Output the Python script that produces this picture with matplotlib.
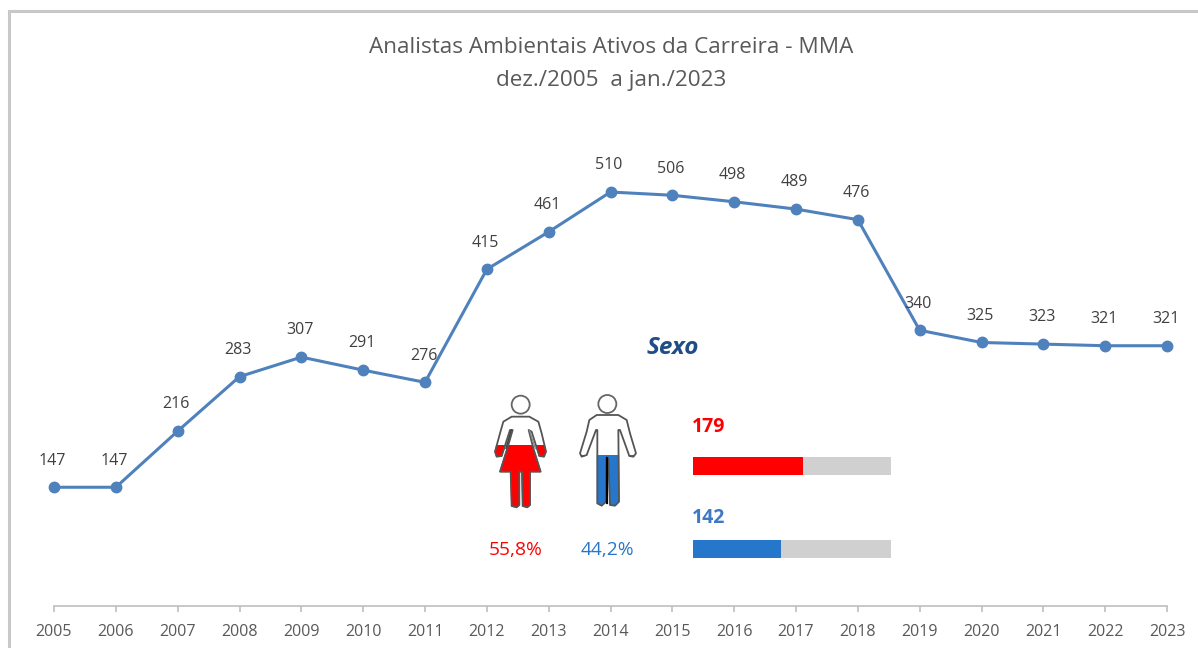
import numpy as np
import matplotlib
matplotlib.use("Agg")
import matplotlib.pyplot as plt
from matplotlib.patches import Polygon, Circle, Rectangle

years = list(range(2005, 2024))
ativos = [147, 147, 216, 283, 307, 291, 276, 415, 461, 510, 506, 498, 489, 476, 340, 325, 323, 321, 321]
sexo_n = [179, 142]
sexo_pct = ["55,8%", "44,2%"]
sexo_cor = ["#ff0000", "#2676cc"]

W, H = 1198, 648
LINE = "#4f81bd"
GREY = "#595959"

plt.rcParams["font.family"] = ["Open Sans", "DejaVu Sans"]
fig = plt.figure(figsize=(W / 100, H / 100), dpi=100)

# pixel overlay for frame, pictograms, titles
px = fig.add_axes([0, 0, 1, 1], zorder=3)
px.set_xlim(0, W)
px.set_ylim(H, 0)
px.axis("off")
px.patch.set_alpha(0)

# main line
ax = fig.add_axes([54 / W, (H - 606) / H, (1167 - 54) / W, (606 - 118) / H], zorder=1)
ax.plot(years, ativos, "-o", color=LINE, lw=2.2, ms=7.5, clip_on=False)
ax.set_xlim(2005, 2023)
ax.set_ylim(1, 601)
ax.set_xticks(years)
ax.set_yticks([])
ax.tick_params(axis="x", length=4.5, width=1.2, color="#bfbfbf", labelcolor=GREY, labelsize=11.5, pad=8.5)
for s in ["top", "left", "right"]:
    ax.spines[s].set_visible(False)
ax.spines["bottom"].set_color("#bfbfbf")
ax.spines["bottom"].set_linewidth(1.2)
for y, v in zip(years, ativos):
    ax.annotate(str(v), (y, v), xytext=(-1, 13.5), textcoords="offset points",
                ha="center", va="bottom", fontsize=11.5, color="#404040")

# frame
px.plot([9, 9, W], [H, 11, 11], color="#c8c8c8", lw=2.2, solid_joinstyle="miter")

px.text(611, 47.5, "Analistas Ambientais Ativos da Carreira - MMA", ha="center", va="center",
        fontsize=16.2, color=GREY)
px.text(611, 80.5, "dez./2005  a jan./2023", ha="center", va="center", fontsize=16.2, color=GREY)
px.text(673, 348.5, "Sexo", ha="center", va="center", fontsize=17.5, color="#1f4e87",
        fontweight="bold", fontstyle="italic")


def zc(pts):
    return [(x / 3 + 470, y / 3 + 330) for x, y in pts]


woman = [(125, 260), (178, 260), (205, 275), (215, 310), (228, 365), (222, 380), (208, 378),
         (185, 305), (176, 300), (190, 355), (212, 425), (180, 425), (180, 525), (172, 532),
         (158, 528), (156, 425), (148, 425), (148, 525), (140, 532), (125, 528), (122, 425),
         (90, 425), (112, 355), (128, 300), (120, 300), (95, 378), (80, 380), (75, 365),
         (90, 310), (100, 275)]
man = [(380, 255), (445, 255), (470, 270), (480, 310), (498, 370), (490, 380), (478, 378),
       (450, 300), (445, 300), (447, 515), (435, 527), (420, 525), (415, 385), (410, 385),
       (408, 515), (395, 527), (382, 520), (382, 300), (378, 300), (350, 375), (335, 380),
       (330, 370), (350, 305), (358, 270)]

for pts, head, fill_y, cor in [(woman, (152, 224), 345, sexo_cor[0]), (man, (412, 222), 375, sexo_cor[1])]:
    pts = zc(pts)
    fill = Polygon(pts, closed=True, fc=cor, ec=cor, lw=0.8)
    px.add_patch(fill)
    top = fill_y / 3 + 330
    fill.set_clip_path(Rectangle((440, top), 220, 100, transform=px.transData))
    px.add_patch(Polygon(pts, closed=True, fc="none", ec="#555555", lw=1.3, joinstyle="round"))
    hx, hy = zc([head])[0]
    px.add_patch(Circle((hx, hy), 9, fc="white", ec="#666666", lw=1.3))
px.plot(*zip(*zc([(412, 385), (412, 518)])), color="black", lw=1.6)
px.plot(*zip(*zc([(124, 300), (108, 355)])), color="#444444", lw=1.1)
px.plot(*zip(*zc([(178, 300), (196, 355)])), color="#888888", lw=1.0)

for xp, txt, cor in zip([516, 607], sexo_pct, sexo_cor):
    px.text(xp, 550, txt, ha="center", va="center", fontsize=13.8, color=cor)

# progress bars
for top, n, cor in zip([457, 540], sexo_n, sexo_cor):
    bar = fig.add_axes([693 / W, (H - top - 18) / H, 198 / W, 18 / H], zorder=2)
    bar.barh([0], [sum(sexo_n)], height=1, color="#d0d0d0")
    bar.barh([0], [n], height=1, color=cor)
    bar.set_xlim(0, sum(sexo_n))
    bar.set_ylim(-0.5, 0.5)
    bar.axis("off")
    px.text(692, top - 30 if n == sexo_n[0] else top - 22, str(n), ha="left", va="center",
            fontsize=14, fontweight="bold", color=cor if n == sexo_n[0] else "#3f78c4")

fig.savefig("out.png", dpi=100)
